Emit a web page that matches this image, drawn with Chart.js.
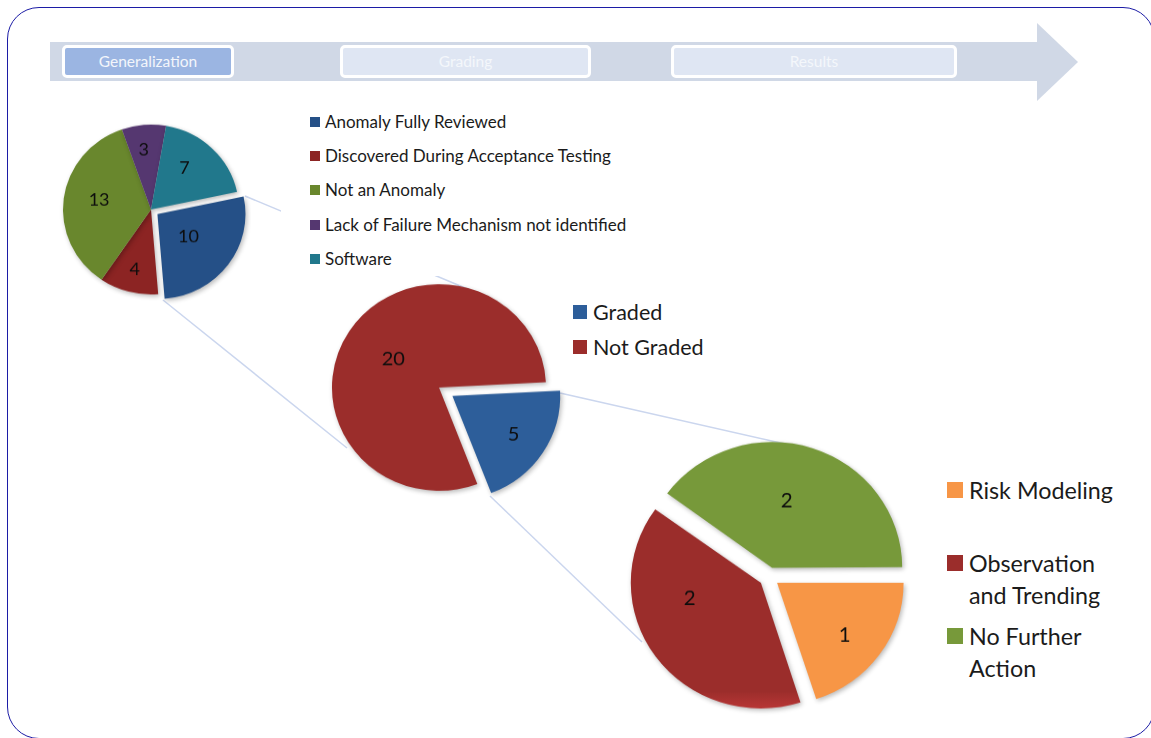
<!DOCTYPE html>
<html>
<head>
<meta charset="utf-8">
<title>Anomaly review breakdown</title>
<script src="https://cdn.jsdelivr.net/npm/chart.js@4.4.1/dist/chart.umd.min.js"></script>
<style>
  html, body { margin: 0; padding: 0; background: #fff; }
  body { width: 1151px; height: 738px; position: relative; overflow: hidden; font-family: Lato, "Open Sans", sans-serif; color: #1b1b1b; }
  .frame { position: absolute; left: 7px; top: 7px; width: 1148px; height: 732px; border: 1.5px solid #1c1ca6; border-radius: 32px; box-sizing: border-box; }
  .band { position: absolute; left: 50px; top: 42px; width: 987px; height: 39px; background: #d0d8e6; }
  .head { position: absolute; left: 1037px; top: 23px; width: 0; height: 0; border-top: 39px solid transparent; border-bottom: 39px solid transparent; border-left: 41px solid #d0d8e6; }
  .stage { position: absolute; top: 45px; height: 33px; box-sizing: border-box; border: 3px solid #fff; border-radius: 5px; background: #dfe6f3; color: #f4f7fb; font-size: 15.5px; text-align: center; line-height: 27px; }
  .stage.on { background: #9bb5e2; color: #f3f6fb; }
  svg.links { position: absolute; left: 0; top: 0; }
  canvas { position: absolute; }
  .legend { position: absolute; background: #fff; }
  .legend .item { position: absolute; display: flex; align-items: flex-start; }
  .legend .sw { flex: none; }
</style>
</head>
<body>
<div class="frame"></div>
<div class="band"></div>
<div class="head"></div>
<div id="stages"></div>

<svg class="links" width="1151" height="738">
  <g stroke="#cbd6ee" stroke-width="1.5" fill="none">
    <line x1="245" y1="196" x2="470" y2="290"/>
    <line x1="163" y1="300" x2="347" y2="448"/>
    <line x1="560" y1="393" x2="785" y2="444"/>
    <line x1="490" y1="496" x2="642" y2="642"/>
  </g>
</svg>

<!-- the pies are drawn a touch flatter than round -->
<canvas id="reviewPie" width="200" height="200" style="left:51px;top:113px;width:200px;height:193px"></canvas>
<canvas id="gradePie" width="260" height="260" style="left:309px;top:262px;width:260px;height:251px"></canvas>
<canvas id="resultPie" width="300" height="300" style="left:619px;top:432px;width:300px;height:290px"></canvas>

<div id="reviewLegend" class="legend" style="left:281px;top:106px;width:370px;height:170px"></div>
<div id="gradeLegend" class="legend" style="left:573px;top:296px;width:150px;height:70px"></div>
<div id="resultLegend" class="legend" style="left:947px;top:474px;width:195px;height:215px"></div>

<script>
// process stages across the top arrow
const stageLabels = ["Generalization", "Grading", "Results"];

// first pie: how the anomalies were dispositioned
const reviewCategories = ["Anomaly Fully Reviewed", "Discovered During Acceptance Testing", "Not an Anomaly", "Lack of Failure Mechanism not identified", "Software"];
const reviewCounts = [10, 4, 13, 3, 7];

// second pie: fully reviewed anomalies split by grading
const gradeCategories = ["Graded", "Not Graded"];
const gradeCounts = [5, 20];

// third pie: what happened to the graded ones
const resultCategories = ["Risk Modeling", "Observation and Trending", "No Further Action"];
const resultCounts = [1, 2, 2];

const reviewColors = ["#255087", "#8c2423", "#69872d", "#553770", "#21788c"];
const gradeColors = ["#2d5e9a", "#9b2d2b"];
const resultColors = ["#f79646", "#9b2d2b", "#77993a"];

// stage boxes
let stageBoxes = [[62, 172], [340, 251], [671, 286]];
let stagesDiv = document.getElementById("stages");
stageLabels.forEach((s, i) => {
  let d = document.createElement("div");
  d.className = "stage" + (i === 0 ? " on" : "");
  d.style.left = stageBoxes[i][0] + "px";
  d.style.width = stageBoxes[i][1] + "px";
  d.textContent = s;
  stagesDiv.appendChild(d);
});

// value labels drawn inside each slice, "best fit" style:
// frac = distance from the tip as a share of the radius, turn = nudge in degrees
// (chart.js moves an arc by offset / 4 when drawing, so do the same here)
const sliceLabels = {
  id: "sliceLabels",
  afterDatasetsDraw(chart, args, opts) {
    const ctx = chart.ctx;
    const meta = chart.getDatasetMeta(0);
    const values = chart.data.datasets[0].data;
    ctx.save();
    ctx.font = opts.size + "px Lato, sans-serif";
    ctx.fillStyle = "#0d0d0d";
    ctx.textAlign = "center";
    ctx.textBaseline = "middle";
    meta.data.forEach((arc, i) => {
      const p = arc.getProps(["x", "y", "startAngle", "endAngle", "outerRadius"], true);
      const mid = (p.startAngle + p.endAngle) / 2;
      const shift = (arc.options.offset || 0) / 4;
      const a = mid + (opts.turn[i] || 0) * Math.PI / 180;
      const r = p.outerRadius * opts.frac[i];
      const x = p.x + Math.cos(mid) * shift + Math.cos(a) * r;
      const y = p.y + Math.sin(mid) * shift + Math.sin(a) * r;
      ctx.fillText(values[i], x, y);
    });
    ctx.restore();
  }
};

// soft drop shadow under the slices
const pieShadow = {
  id: "pieShadow",
  beforeDatasetsDraw(chart) {
    const ctx = chart.ctx;
    ctx.save();
    ctx.shadowColor = "rgba(0,0,0,0.28)";
    ctx.shadowBlur = 5;
    ctx.shadowOffsetX = 1.5;
    ctx.shadowOffsetY = 2;
  },
  afterDatasetsDraw(chart) {
    chart.ctx.restore();
  }
};

function makePie(id, labels, values, colors, radius, rotation, offsets, labelOpts) {
  return new Chart(document.getElementById(id), {
    type: "pie",
    data: {
      labels: labels,
      datasets: [{
        data: values,
        backgroundColor: colors,
        borderWidth: 0,
        offset: offsets
      }]
    },
    options: {
      responsive: false,
      animation: false,
      radius: radius,
      rotation: rotation,
      layout: { padding: 0 },
      plugins: {
        legend: { display: false },
        tooltip: { enabled: false },
        sliceLabels: labelOpts
      }
    },
    plugins: [pieShadow, sliceLabels]
  });
}

makePie("reviewPie", reviewCategories, reviewCounts, reviewColors, 88, 78, [32, 0, 0, 0, 0],
  { size: 18, frac: [0.44, 0.73, 0.6, 0.71, 0.62], turn: [0, 0, 3, -2, -6] });
makePie("gradePie", gradeCategories, gradeCounts, gradeColors, 107, 87, [64, 0],
  { size: 20, frac: [0.68, 0.51], turn: [0, 0] });

// the observation slice fades lighter toward its bottom edge
function resultFill(context) {
  const i = context.dataIndex;
  const c = resultColors[i];
  const area = context.chart.chartArea;
  if (i !== 1 || !area) return c;
  const g = context.chart.ctx.createLinearGradient(0, area.top + 262, 0, area.top + 292);
  g.addColorStop(0, c);
  g.addColorStop(1, "#cc3d3d");
  return g;
}
makePie("resultPie", resultCategories, resultCounts, resultFill, 126, 90, [40, 40, 40],
  { size: 20.5, frac: [0.69, 0.58, 0.56], turn: [3, 23, -6] });

// legends
function buildLegend(id, labels, colors, opt) {
  let box = document.getElementById(id);
  labels.forEach((name, i) => {
    let row = document.createElement("div");
    row.className = "item";
    row.style.left = (opt.left || 0) + "px";
    row.style.top = (i * opt.step) + "px";
    row.style.fontSize = opt.font + "px";
    row.style.lineHeight = opt.line + "px";
    let sw = document.createElement("span");
    sw.className = "sw";
    sw.style.width = opt.sw + "px";
    sw.style.height = opt.sw + "px";
    sw.style.background = colors[i];
    sw.style.marginTop = ((opt.line - opt.sw) / 2) + "px";
    sw.style.marginRight = opt.gap + "px";
    let tx = document.createElement("span");
    tx.textContent = name;
    if (opt.wrap) tx.style.width = opt.wrap + "px";
    row.appendChild(sw);
    row.appendChild(tx);
    box.appendChild(row);
  });
}

buildLegend("reviewLegend", reviewCategories, reviewColors, { left: 29, step: 34.2, font: 17, line: 32, sw: 10, gap: 5 });
buildLegend("gradeLegend", gradeCategories, gradeColors, { step: 35, font: 21.5, line: 32, sw: 14, gap: 6 });
buildLegend("resultLegend", resultCategories, resultColors, { step: 73, font: 23.3, line: 32, sw: 16, gap: 6, wrap: 165 });
</script>
</body>
</html>
